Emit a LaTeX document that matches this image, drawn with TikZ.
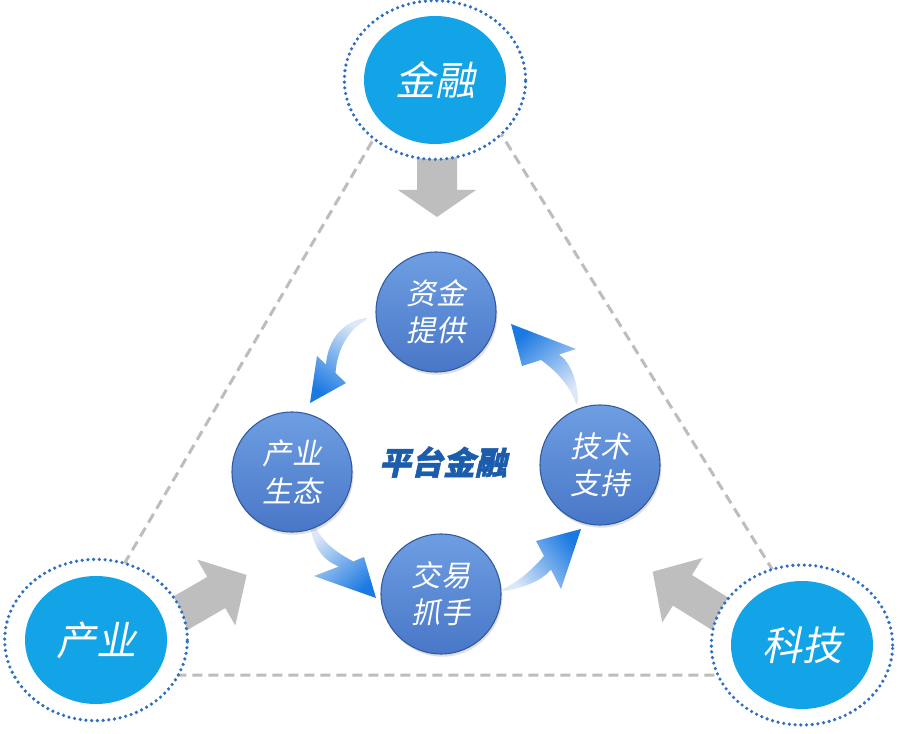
\documentclass[tikz,border=0pt]{standalone}
\usepackage{fontspec}
\usetikzlibrary{shapes.geometric,shadows}
\newfontfamily\cjk[FakeSlant=0.2]{Noto Sans CJK SC}
\newfontfamily\cjktitle[FakeSlant=0.22,FakeBold=1.5]{Noto Sans CJK SC}
\definecolor{ringblue}{HTML}{2E6FC4}
\definecolor{cyanfill}{HTML}{12A4E6}
\definecolor{innerTop}{HTML}{6E9EE2}
\definecolor{innerBot}{HTML}{4977C8}
\definecolor{innerRim}{HTML}{2F5AA0}
\definecolor{headblue}{HTML}{1A79E2}
\definecolor{tailblue}{HTML}{DCE7F7}
\definecolor{grayarrow}{HTML}{BEBEBE}
\definecolor{dashgray}{HTML}{BDBDBD}
\definecolor{titleblue}{HTML}{1C5CAC}
\newcommand\blockarrow[7]{%
  \fill[grayarrow, shift={(#1,#2)}, rotate=#3]
    (0,-#6) -- ({#4-#5},-#6) -- ({#4-#5},-#7) -- (#4,0) -- ({#4-#5},#7) -- ({#4-#5},#6) -- (0,#6) -- cycle;}
\tikzset{
  dashline/.style={draw=dashgray, line width=2.25pt, dash pattern=on 7.5pt off 4.5pt},
  ringc/.style={ellipse, draw=ringblue, fill=white, line width=2.7pt, line cap=round,
    dash pattern=on 0pt off 4.3pt, minimum width=136pt, minimum height=119pt, inner sep=0pt},
  outerc/.style={ellipse, fill=cyanfill, minimum width=106.5pt, minimum height=96pt, inner sep=0pt,
    text=white, font=\cjk\fontsize{30}{36}\selectfont},
  innerc/.style={circle, minimum size=90pt, inner sep=0pt, top color=innerTop, bottom color=innerBot,
    draw=innerRim, line width=0.8pt, text=white, align=center,
    font=\cjk\fontsize{22}{28}\selectfont,
    drop shadow={opacity=0.25, shadow xshift=1pt, shadow yshift=-2pt}},
  flowarrow/.style={top color=headblue, bottom color=tailblue}
}
\begin{document}
\begin{tikzpicture}[x=0.75pt,y=0.75pt]
\useasboundingbox (0,0) rectangle (900,733);
\fill[white] (0,0) rectangle (900,733);
% dashed triangle
\coordinate (tA) at (437,702);
\coordinate (tB) at (59,58);
\coordinate (tC) at (838,58);
\draw[dashline] (tA) -- (tB) -- (tC) -- cycle;
% gray block arrows
\blockarrow{437}{585}{-90}{69}{27}{20}{39}
\blockarrow{160}{108}{30}{100}{35}{18}{38}
\blockarrow{746}{103}{148}{110}{35}{18}{38}
% outer circles
\node[ringc] (jrRing) at (435,653) {};
\node[outerc] (jr) at (435,653) {金融};
\node[ringc, minimum width=137pt, minimum height=121pt] (cyRing) at (96,93) {};
\node[outerc] (cy) at (96,93) {产业};
\node[ringc, minimum width=136pt, minimum height=120pt] (kjRing) at (802,88) {};
\node[outerc] (kj) at (802,88) {科技};
% curved blue arrows
\shade[flowarrow, shading angle=146] (367,415) .. controls (345,413) and (328,395) .. (326,368.5)
  -- (317,377) -- (310,330) -- (346,350) -- (335.5,360) .. controls (337,383) and (348,403) .. (366,413) -- cycle;
\shade[flowarrow, shading angle=221] (310,210) .. controls (312,188) and (322,173) .. (339,166.5)
  -- (314,157) -- (376,135) -- (364,176) -- (353.4,171.6) .. controls (335,181) and (320,193) .. (314,210) -- cycle;
\shade[flowarrow, shading angle=-52] (503,142) .. controls (525,145) and (542,153) .. (551,163.4)
  -- (561,144) -- (581,204) -- (536,192) -- (544,177) .. controls (532,163) and (518,151) .. (503,144) -- cycle;
\shade[flowarrow, shading angle=40] (578,330) .. controls (578,353) and (570,371) .. (559,378.5)
  -- (576,384) -- (511,409) -- (522,367) -- (541,373) .. controls (555,363) and (570,348) .. (576,329) -- cycle;
% inner circles
\node[innerc] (zj) at (436,421) {资金\\提供};
\node[innerc] (cs) at (292,261) {产业\\生态};
\node[innerc] (jy) at (441,139) {交易\\抓手};
\node[innerc] (js) at (600,268) {技术\\支持};
% title
\node[text=titleblue, font=\cjktitle\bfseries\fontsize{24}{28}\selectfont] (title) at (443,271) {平台金融};
\end{tikzpicture}
\end{document}
